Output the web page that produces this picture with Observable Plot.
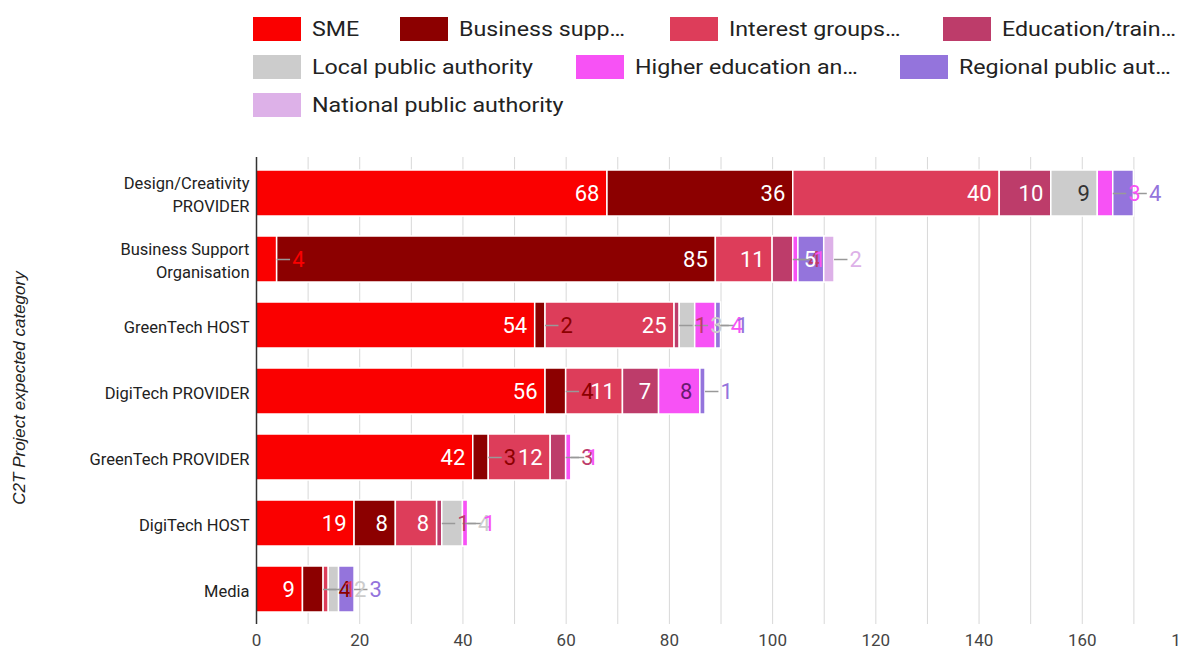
<!DOCTYPE html>
<html>
<head>
<meta charset="utf-8">
<script src="https://cdn.jsdelivr.net/npm/d3@7"></script>
<script src="https://cdn.jsdelivr.net/npm/@observablehq/plot@0.6"></script>
<style>
  html, body { margin: 0; padding: 0; background: #fff; overflow: hidden; width: 1178px; height: 655px; }
  body { font-family: Roboto, "Noto Sans", sans-serif; position: relative; }
  #legend { position: absolute; left: 0; top: 0; width: 1178px; height: 130px; }
  .litem { position: absolute; display: flex; align-items: center; height: 38px; font-size: 20px; color: #222; white-space: nowrap; }
  .sw { width: 48px; height: 24px; display: inline-block; margin-right: 11px; }
  .lt { display: inline-block; transform: scaleX(1.16); transform-origin: left center; }
  #ytitle { position: absolute; left: 20px; top: 388px; transform: translate(-50%, -50%) rotate(-90deg);
            font-family: "Liberation Sans", Arial, sans-serif; font-style: italic; font-size: 17px; color: #222; white-space: nowrap; }
  #chart { position: absolute; left: 0; top: 140px; }
  #chart svg { max-width: none !important; overflow: visible; }
</style>
</head>
<body>
<div id="legend"></div>
<div id="ytitle">C2T Project expected category</div>
<div id="chart"></div>
<script>
// ---- data ----
const rows = [
  "Design/Creativity\nPROVIDER",
  "Business Support\nOrganisation",
  "GreenTech HOST",
  "DigiTech PROVIDER",
  "GreenTech PROVIDER",
  "DigiTech HOST",
  "Media"
];
const seriesNames = [
  "SME",
  "Business support organisation",
  "Interest groups",
  "Education/training",
  "Local public authority",
  "Higher education and research",
  "Regional public authority",
  "National public authority"
];
const legendLabels = [
  "SME", "Business supp…", "Interest groups…", "Education/train…",
  "Local public authority", "Higher education an…", "Regional public aut…",
  "National public authority"
];
const colors = ["#fa0000", "#8c0000", "#dd3d5a", "#bd3c6a", "#cccccc", "#f752f5", "#9474dc", "#ddb1e8"];
const labelColors = ["#ffffff", "#ffffff", "#ffffff", "#ffffff", "#333333", "#6a1a70", "#ffffff", "#333333"];

const sme        = [68,  4, 54, 56, 42, 19, 9];
const business   = [36, 85,  2,  4,  3,  8, 4];
const interest   = [40, 11, 25, 11, 12,  8, 1];
const education  = [10,  4,  1,  7,  3,  1, 0];
const localAuth  = [ 9,  0,  3,  0,  0,  4, 2];
const higherEd   = [ 3,  1,  4,  8,  1,  1, 0];
const regional   = [ 4,  5,  1,  1,  0,  0, 3];
const national   = [ 0,  2,  0,  0,  0,  0, 0];

const xTicks = [0, 20, 40, 60, 80, 100, 120, 140, 160, 180];
const gridTicks = [10, 20, 30, 40, 50, 60, 70, 80, 90, 100, 110, 120, 130, 140, 150, 160, 170];

// ---- build stacked table ----
const seriesValues = [sme, business, interest, education, localAuth, higherEd, regional, national];
const table = [];
rows.forEach((row, r) => {
  let acc = 0;
  seriesValues.forEach((vals, s) => {
    const v = vals[r];
    table.push({row, series: seriesNames[s], s, value: v, x1: acc, x2: acc + v});
    acc += v;
  });
});
const present = table.filter(d => d.value > 0);
const inside = present.filter(d => d.value >= 5);
const outside = present.filter(d => d.value < 5);

// ---- legend (layout) ----
const legendLayout = [
  [253, 10], [400, 10], [670, 10], [943, 10],
  [253, 48], [576, 48], [900, 48],
  [253, 86]
];
const legend = document.getElementById("legend");
legendLabels.forEach((lab, i) => {
  const it = document.createElement("div");
  it.className = "litem";
  it.style.left = legendLayout[i][0] + "px";
  it.style.top = legendLayout[i][1] + "px";
  const sw = document.createElement("span");
  sw.className = "sw";
  sw.style.background = colors[i];
  const tx = document.createElement("span");
  tx.className = "lt";
  tx.textContent = lab;
  it.appendChild(sw); it.appendChild(tx);
  legend.appendChild(it);
});

// ---- chart ----
const chart = Plot.plot({
  width: 1190,
  height: 515,
  marginLeft: 256,
  marginRight: 5,
  marginTop: 17,
  marginBottom: 31,
  style: {fontFamily: "Roboto, sans-serif", fontSize: "17px", color: "#444", background: "transparent"},
  x: {domain: [0, 180], ticks: xTicks, tickSize: 0, tickPadding: 9, label: null},
  y: {domain: rows, axis: null, paddingInner: 0.31, paddingOuter: 0.17},
  color: {domain: seriesNames, range: colors},
  marks: [
    Plot.ruleX(gridTicks, {stroke: "#d8d8d8", strokeWidth: 1}),
    Plot.barX(present, {x1: "x1", x2: "x2", y: "row", fill: "series", stroke: "white", strokeWidth: 1.5}),
    Plot.ruleX([0], {stroke: "#333", strokeWidth: 1.5}),
    Plot.ruleY(outside, {x1: "x2", x2: d => d.x2 + 2.6, y: "row", stroke: "#999", strokeWidth: 1.5}),
    Plot.text(outside, {x: "x2", y: "row", text: d => String(d.value), dx: 15, textAnchor: "start",
      fill: d => colors[d.s], fontSize: 22}),
    Plot.text(inside, {x: "x2", y: "row", text: d => String(d.value), dx: -8, textAnchor: "end",
      fill: d => labelColors[d.s], fontSize: 22}),
    Plot.text(rows, {x: 0, y: d => d, text: d => d, dx: -7, textAnchor: "end", fontSize: 16.5,
      fill: "#222", lineHeight: 1.4})
  ]
});
document.getElementById("chart").appendChild(chart);
</script>
</body>
</html>
